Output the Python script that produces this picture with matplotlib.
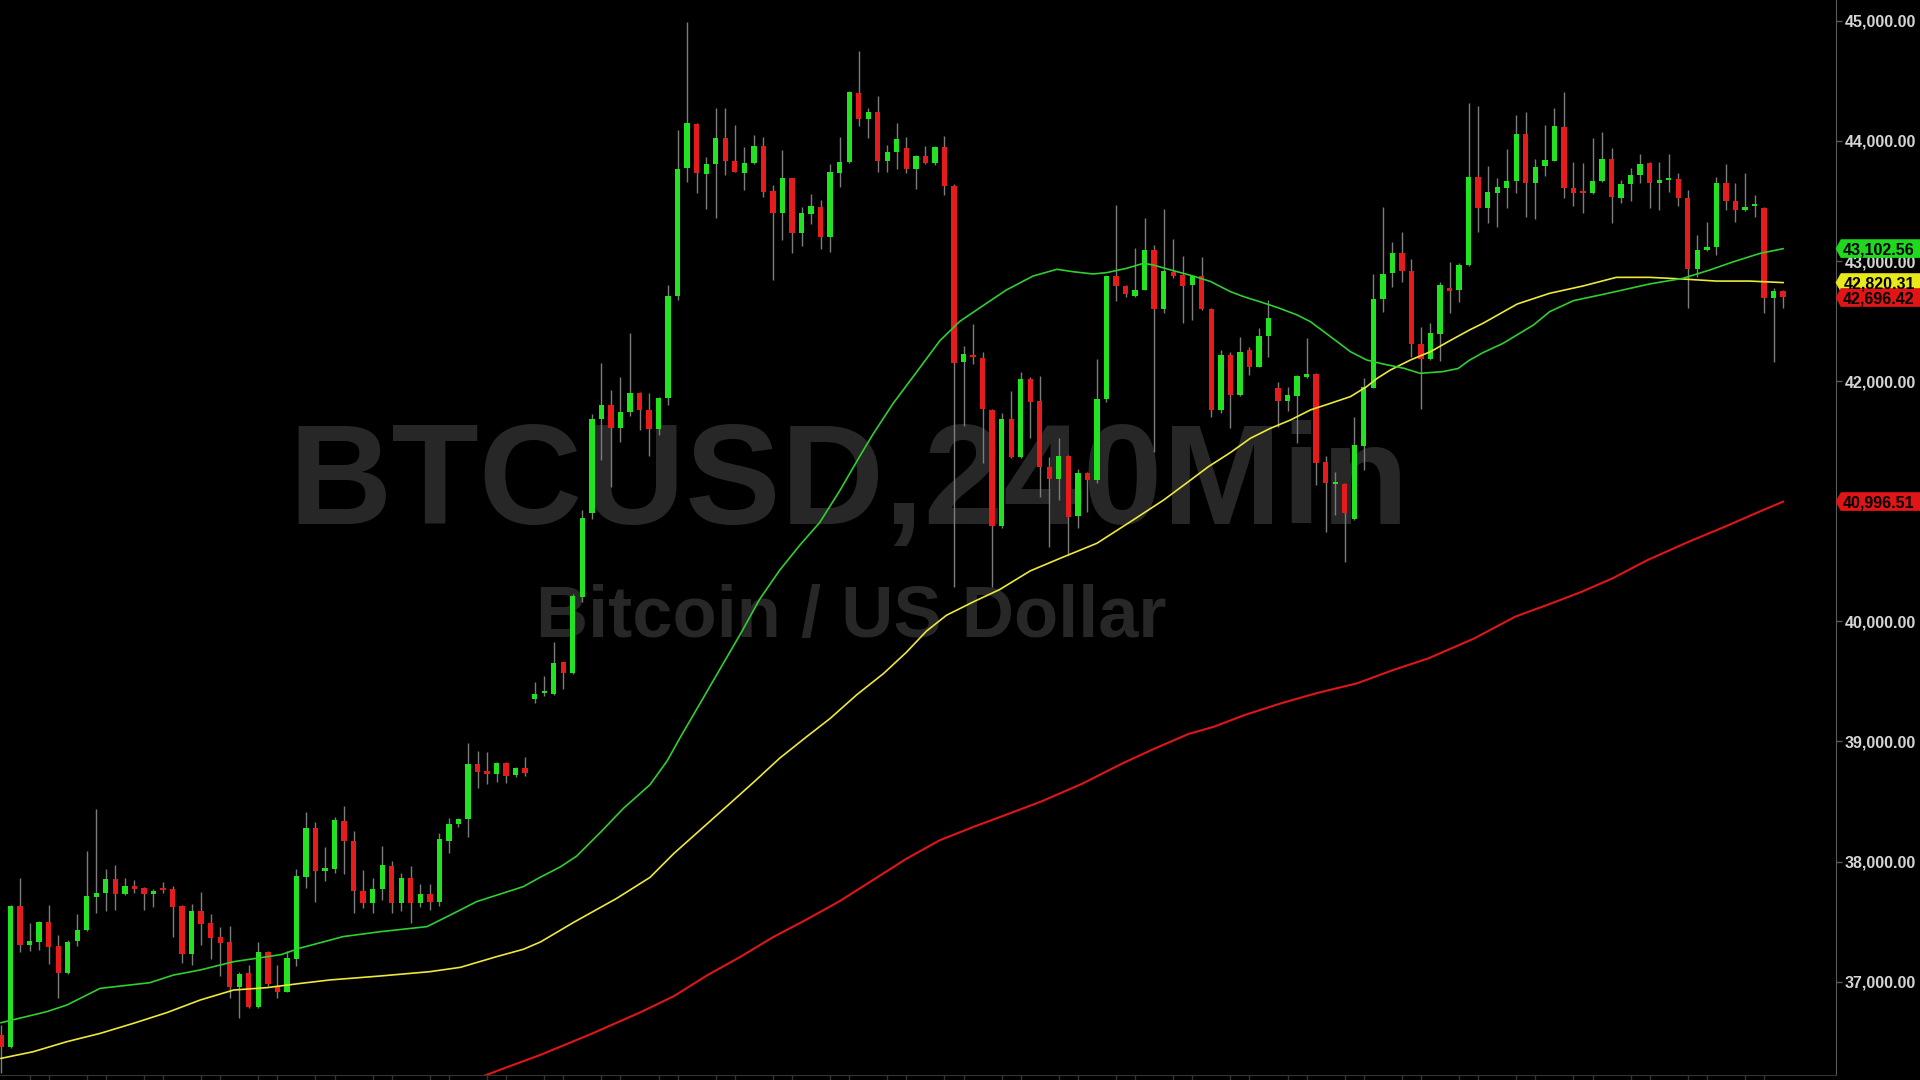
import matplotlib
matplotlib.use("Agg")
import matplotlib.pyplot as plt
from matplotlib.patches import Polygon
from matplotlib.transforms import blended_transform_factory
from matplotlib.ticker import FuncFormatter
import numpy as np

plt.rcParams['font.family'] = ['Liberation Sans', 'DejaVu Sans']

# ---------------- data (BTCUSD, 240 min candles) ----------------
opens = [36556, 36458, 37630, 37305, 37333, 37494, 37297, 37069, 37341, 37430,
         37708, 37741, 37852, 37730, 37793, 37777, 37730, 37774, 37768, 37630,
         37227, 37588, 37491, 37374, 37327, 36958, 37069, 36786, 37244, 36966,
         36916, 37188, 37874, 38282, 37921, 37935, 38340, 38171, 37758, 37652,
         37769, 37963, 37652, 37866, 37652, 37727, 37666, 38174, 38310, 38351,
         38809, 38754, 38726, 38823, 38718, 38781, 39350, 39400, 39398, 39659,
         39567, 40204, 40902, 41683, 41797, 41613, 41740, 41899, 41756, 41603,
         41861, 42706, 43772, 44138, 43722, 43805, 44027, 43836, 43736, 43813,
         43958, 43583, 43397, 43688, 43236, 43391, 43447, 43197, 43736, 43822,
         44402, 44180, 44238, 43836, 43910, 43938, 43763, 43874, 43813, 43952,
         43625, 42162, 42217, 42190, 41760, 40794, 41682, 41366, 42015, 41834,
         41288, 41182, 41377, 40877, 41232, 41177, 41848, 42875, 42792, 42709,
         42759, 43092, 42598, 42911, 42884, 42800, 42875, 42598, 41760, 42218,
         41884, 42259, 42120, 42376, 41945, 41835, 41879, 42037, 42059, 41329,
         41140, 41140, 40849, 41460, 41946, 42684, 42898, 43070, 42920, 42306,
         42181, 42390, 42778, 42759, 42967, 43702, 43439, 43569, 43611, 43666,
         44057, 43652, 43791, 43835, 44118, 43611, 43568, 43563, 43666, 43846,
         43522, 43641, 43716, 43819, 43647, 43674, 43680, 43522, 42931, 43092,
         43114, 43652, 43500, 43425, 43455, 43444, 42689, 42753]
highs = [36639, 37641, 37860, 37485, 37505, 37638, 37388, 37345, 37563, 38088,
         38437, 37938, 37971, 37860, 37846, 37790, 37770, 37827, 37796, 37640,
         37644, 37743, 37560, 37458, 37463, 37083, 37138, 37327, 37258, 37138,
         37255, 37938, 38410, 38326, 38124, 38374, 38462, 38257, 37930, 37860,
         38132, 38007, 37902, 37963, 37810, 37810, 38235, 38360, 38360, 38990,
         38923, 38909, 38830, 38832, 38790, 38868, 39494, 39541, 39828, 39665,
         40226, 40927, 41724, 42148, 41922, 42036, 42400, 41910, 41899, 41870,
         42798, 44092, 44987, 44150, 43869, 44277, 44277, 44133, 43952, 44049,
         44035, 43633, 43924, 43695, 43453, 43555, 43508, 43808, 44030, 44415,
         44749, 44277, 44374, 43966, 44146, 44030, 43880, 43958, 43960, 44041,
         43640, 42295, 42476, 42245, 41770, 41737, 41918, 42073, 42037, 42043,
         41371, 41524, 41385, 41265, 41240, 42181, 42880, 43466, 42800, 43106,
         43355, 43133, 43430, 43181, 43042, 42880, 43031, 42605, 42259, 42245,
         42370, 42287, 42445, 42675, 41995, 41954, 42051, 42356, 42065, 41377,
         41246, 41150, 41704, 42023, 42892, 43452, 43161, 43244, 43014, 42453,
         42487, 42828, 42989, 42981, 44313, 44291, 43791, 43688, 43930, 44216,
         44238, 43846, 44132, 44271, 44410, 43827, 43813, 44027, 44077, 43938,
         43674, 43772, 43888, 43827, 43827, 43891, 43730, 43591, 43217, 43328,
         43702, 43808, 43647, 43730, 43550, 43450, 42772, 42760]
lows = [36236, 36445, 37250, 37258, 37260, 37144, 36866, 37060, 37300, 37420,
        37574, 37591, 37596, 37720, 37735, 37596, 37624, 37740, 37374, 37152,
        37138, 37305, 37186, 37050, 36866, 36694, 36780, 36780, 36960, 36861,
        36910, 37130, 37777, 37660, 37838, 37902, 37896, 37569, 37610, 37574,
        37680, 37569, 37591, 37486, 37619, 37596, 37630, 38068, 38290, 38202,
        38615, 38646, 38665, 38657, 38700, 38712, 39318, 39382, 39390, 39439,
        39560, 40163, 40854, 41342, 41119, 41491, 41708, 41597, 41374, 41549,
        41804, 42674, 43661, 43564, 43433, 43355, 43716, 43740, 43591, 43810,
        43536, 42842, 43175, 43064, 43125, 43305, 43097, 43078, 43619, 43815,
        44124, 44027, 43738, 43738, 43763, 43730, 43597, 43808, 43800, 43550,
        40289, 41626, 42143, 41321, 40289, 40774, 41360, 41358, 41529, 41038,
        40622, 41010, 40552, 40774, 40913, 41149, 41829, 42670, 42703, 42700,
        42755, 41413, 42570, 42856, 42487, 42509, 42590, 41704, 41732, 41607,
        41880, 42051, 42115, 42204, 41621, 41754, 41482, 42030, 41135, 40747,
        40885, 40497, 40845, 41260, 41940, 42573, 42786, 42828, 42204, 41765,
        42175, 42168, 42564, 42662, 42960, 43244, 43319, 43286, 43439, 43563,
        43369, 43347, 43708, 43830, 43522, 43458, 43397, 43558, 43660, 43319,
        43486, 43502, 43647, 43438, 43425, 43577, 43458, 42606, 42870, 43085,
        43050, 43425, 43328, 43420, 43364, 42565, 42162, 42606]
closes = [36453, 37630, 37305, 37338, 37494, 37291, 37069, 37333, 37430, 37713,
          37741, 37852, 37730, 37796, 37771, 37730, 37755, 37763, 37624, 37227,
          37588, 37480, 37366, 37324, 36958, 37064, 36786, 37244, 36980, 36916,
          37194, 37879, 38282, 37921, 37943, 38346, 38171, 37758, 37652, 37769,
          37971, 37652, 37866, 37652, 37730, 37666, 38185, 38313, 38354, 38812,
          38748, 38726, 38818, 38712, 38781, 38740, 39398, 39407, 39653, 39567,
          40211, 40864, 41683, 41797, 41613, 41740, 41899, 41756, 41603, 41861,
          42706, 43763, 44146, 43730, 43805, 44027, 43836, 43744, 43813, 43958,
          43577, 43397, 43688, 43236, 43397, 43461, 43197, 43738, 43822, 44410,
          44180, 44238, 43836, 43910, 44013, 43763, 43874, 43813, 43952, 43625,
          42148, 42223, 42198, 41765, 40794, 41682, 41366, 42015, 41823, 41282,
          41182, 41377, 40866, 41232, 41177, 41848, 42875, 42792, 42723, 42759,
          43092, 42598, 42917, 42875, 42792, 42875, 42598, 41760, 42218, 41884,
          42245, 42120, 42378, 42523, 41835, 41884, 42043, 42059, 41321, 41149,
          41145, 40899, 41468, 41954, 42684, 42892, 43070, 42920, 42306, 42181,
          42398, 42800, 42750, 42967, 43702, 43439, 43572, 43619, 43666, 44057,
          43647, 43785, 43841, 44124, 43605, 43563, 43563, 43666, 43846, 43530,
          43638, 43716, 43805, 43647, 43674, 43680, 43522, 42931, 43092, 43114,
          43652, 43500, 43425, 43452, 43458, 42689, 42753, 42696.42]

# moving averages (candle index, price)
ma_fast_idx = [0, 4.8, 6.9, 10.4, 15.6, 18.1, 20.9, 24.4, 29.4, 31.4, 33.5, 35.9,
               39.8, 44.7, 46.8, 49.9, 54.8, 56.6, 58.7, 60.4, 62.9, 65.3, 68.1,
               69.9, 71.3, 73.4, 75.5, 77.6, 79.6, 81.7, 83.8, 85.9, 88.0, 90.1,
               91.5, 93.6, 96.1, 98.5, 100.6, 102.7, 105.5, 108.3, 110.8, 112.5,
               114.6, 116.0, 118.1, 119.9, 120.9, 123.0, 125.1, 126.9, 129.0,
               130.4, 132.1, 133.9, 136.0, 137.4, 138.8, 140.2, 141.6, 143.3,
               145.0, 147.2, 148.9, 151.3, 152.9, 154.0, 155.5, 157.6, 160.8,
               162.5, 165.0, 167.8, 170.2, 173.0, 176.5, 179.3, 181.8, 184.6, 187.0]
ma_fast_val = [36658, 36750, 36805, 36944, 36991, 37055, 37097, 37166, 37225, 37280,
               37324, 37375, 37416, 37458, 37541, 37666, 37791, 37870, 37956, 38045,
               38243, 38442, 38640, 38838, 39037, 39323, 39610, 39896, 40183, 40425,
               40632, 40822, 41086, 41373, 41558, 41813, 42078, 42335, 42497, 42610,
               42759, 42875, 42931, 42911, 42892, 42903, 42939, 42981, 42967, 42920,
               42875, 42830, 42745, 42703, 42661, 42614, 42551, 42495, 42412, 42329,
               42245, 42176, 42143, 42107, 42065, 42079, 42105, 42170, 42237, 42314,
               42467, 42578, 42670, 42717, 42759, 42809, 42856, 42925, 42994, 43064,
               43102.56]

ma_mid_idx = [0, 3.4, 6.9, 10.4, 13.9, 17.4, 20.9, 24.4, 27.9, 31.4, 34.5, 39.8,
              45.0, 48.2, 52.0, 54.8, 56.6, 60.1, 64.6, 68.1, 70.6, 73.4, 76.2,
              79.0, 81.7, 84.5, 87.0, 89.8, 92.6, 95.0, 97.1, 99.2, 102.0, 104.8,
              108.0, 111.3, 115.0, 118.8, 122.0, 124.6, 126.7, 129.0, 131.1, 133.2,
              135.3, 137.4, 139.5, 141.6, 143.3, 144.4, 145.8, 147.9, 150.0, 152.0,
              154.1, 155.5, 159.1, 162.5, 166.0, 169.5, 173.0, 176.5, 180.0, 183.5,
              187.0]
ma_mid_val = [36361, 36417, 36500, 36569, 36653, 36742, 36847, 36930, 36950, 36985,
              37014, 37047, 37083, 37119, 37208, 37269, 37330, 37494, 37693, 37868,
              38067, 38265, 38463, 38662, 38860, 39037, 39191, 39389, 39565, 39742,
              39918, 40050, 40161, 40265, 40420, 40530, 40650, 40844, 41010, 41163,
              41288, 41405, 41524, 41607, 41676, 41760, 41815, 41871, 41954, 42023,
              42093, 42176, 42245, 42335, 42426, 42481, 42642, 42731, 42792, 42864,
              42864, 42850, 42833, 42833, 42820.31]

ma_slow_idx = [49.0, 53.0, 56.6, 61.8, 67.1, 70.6, 74.1, 77.6, 81.0, 84.5, 88.0, 91.5,
               95.0, 98.5, 102.0, 104.8, 109.1, 113.4, 117.7, 120.9, 124.6, 127.3,
               130.5, 134.3, 138.0, 142.3, 146.1, 149.8, 154.6, 158.9, 162.7, 165.9,
               169.1, 172.8, 177.1, 180.9, 184.1, 187.0]
ma_slow_val = [36165, 36285, 36390, 36560, 36745, 36879, 37053, 37207, 37370, 37516,
               37670, 37846, 38023, 38177, 38287, 38370, 38498, 38646, 38818, 38935,
               39062, 39123, 39220, 39317, 39401, 39484, 39595, 39692, 39858, 40039,
               40150, 40247, 40358, 40511, 40663, 40788, 40899, 40996.51]

price_ticks = [37000, 38000, 39000, 40000, 41000, 42000, 43000, 44000, 45000]
title_text = "BTCUSD,240Min"
subtitle_text = "Bitcoin / US Dollar"

# ---------------- styling ----------------
BG = "#000000"
UP = "#22e322"
DOWN = "#e61c1c"
WICK = "#7c7c7c"
FAST_C = "#2fcf2f"
MID_C = "#ece83c"
SLOW_C = "#e01616"
AXIS_C = "#5a5a5a"
LABEL_C = "#d4d4d4"
WATERMARK_C = "#272727"

W, H = 1920, 1080
fig = plt.figure(figsize=(W / 100, H / 100), dpi=100, facecolor=BG)
ax = fig.add_axes([0, 5 / H, 1836 / W, 1 - 5 / H])
ax.set_facecolor(BG)

n = len(closes)
x = np.arange(n)
o = np.array(opens, float)
c = np.array(closes, float)
hi = np.array(highs, float)
lo = np.array(lows, float)

ax.set_xlim(-0.105, 192.55)
ax.set_ylim(36222.7, 45173.2)

# watermark
ax.text(849 / W, 1 - 524 / H, title_text, transform=fig.transFigure,
        ha='center', va='baseline', fontsize=103, fontweight='bold',
        color=WATERMARK_C, zorder=0)
ax.text(851 / W, 1 - 637 / H, subtitle_text, transform=fig.transFigure,
        ha='center', va='baseline', fontsize=52, fontweight='bold',
        color=WATERMARK_C, zorder=0)

# candles
ax.vlines(x, lo, hi, color=WICK, lw=1.0, zorder=2)
up = c >= o
body_h = np.maximum(np.abs(c - o), 16)
body_b = np.minimum(o, c)
ax.bar(x, body_h, bottom=body_b, width=0.56,
       color=np.where(up, UP, DOWN), linewidth=0, zorder=3)

# moving averages
ax.plot(ma_slow_idx, ma_slow_val, color=SLOW_C, lw=1.5, zorder=4)
ax.plot(ma_mid_idx, ma_mid_val, color=MID_C, lw=1.2, zorder=4)
ax.plot(ma_fast_idx, ma_fast_val, color=FAST_C, lw=1.2, zorder=4)

# axes styling
for s in ['top', 'left']:
    ax.spines[s].set_visible(False)
ax.spines['right'].set_color(AXIS_C)
ax.spines['bottom'].set_color('#333333')
ax.yaxis.tick_right()
ax.set_yticks(price_ticks)
ax.yaxis.set_major_formatter(FuncFormatter(lambda v, p: f"{v:,.2f}"))
ax.tick_params(axis='y', colors=AXIS_C, labelcolor=LABEL_C, length=4,
               width=1, pad=2.5, labelsize=11.5)
for lab in ax.get_yticklabels():
    lab.set_fontweight('bold')
xt = [i for i in range(n) if i % 6 in (3, 5)]
ax.set_xticks(xt)
ax.tick_params(axis='x', colors='#333333', length=4, width=1, labelbottom=False)

# value badges on the price scale
bt = blended_transform_factory(fig.transFigure, ax.transData)
half = 9 * (45173.2 - 36222.7) / 1075


def badge(val, fc, tc="#000000"):
    tip = 1836 / W
    start = 1841 / W
    poly = Polygon([(tip, val), (start, val + half), (1.0, val + half),
                    (1.0, val - half), (start, val - half)], closed=True,
                   transform=bt, facecolor=fc, edgecolor=fc, lw=0.5,
                   clip_on=False, zorder=10)
    ax.add_patch(poly)
    ax.text(1879 / W, val, f"{val:,.2f}", transform=bt, ha='center',
            va='center_baseline', fontsize=11.5, fontweight='bold', color=tc,
            clip_on=False, zorder=11)


badge(ma_fast_val[-1], "#1fd91f")
badge(ma_mid_val[-1], "#e8e81a")
badge(closes[-1], "#e01515")
badge(ma_slow_val[-1], "#e01515")

fig.savefig("out.png", dpi=100, facecolor=BG)
